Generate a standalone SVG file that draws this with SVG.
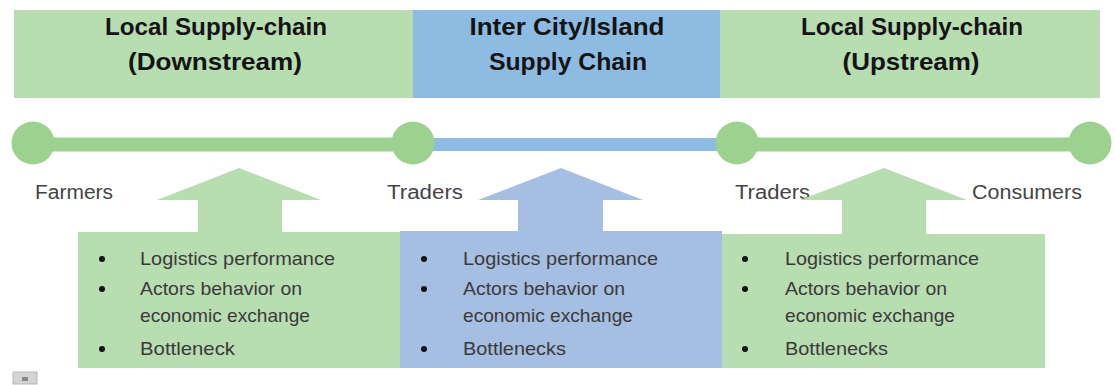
<svg xmlns="http://www.w3.org/2000/svg" width="1115" height="385" viewBox="0 0 1115 385">
  <style>
    .green-band { fill: #b7ddb1; }
    .blue-band { fill: #8dbbe2; }
    .green-node { fill: #9dd18f; }
    .green-box { fill: #b7ddb1; }
    .blue-box { fill: #a5bee1; }
    .title { font-family: "Liberation Sans", Arial, sans-serif; font-weight: bold; font-size: 24px; fill: #141414; text-anchor: middle; }
    .label { font-family: "Liberation Sans", Arial, sans-serif; font-size: 20px; fill: #444444; }
    .item { font-family: "Liberation Sans", Arial, sans-serif; font-size: 19px; fill: #3a3a3a; }
    .dot { fill: #111111; }
  </style>

  <!-- header bands -->
  <g id="band-downstream">
    <rect class="green-band" x="14" y="10" width="399" height="88"/>
    <text class="title" x="216" y="35" textLength="222" lengthAdjust="spacingAndGlyphs">Local Supply-chain</text>
    <text class="title" x="215" y="70" textLength="174" lengthAdjust="spacingAndGlyphs">(Downstream)</text>
  </g>
  <g id="band-intercity">
    <rect class="blue-band" x="413" y="10" width="307" height="88"/>
    <text class="title" x="567" y="35" textLength="195" lengthAdjust="spacingAndGlyphs">Inter City/Island</text>
    <text class="title" x="568" y="70" textLength="158" lengthAdjust="spacingAndGlyphs">Supply Chain</text>
  </g>
  <g id="band-upstream">
    <rect class="green-band" x="720" y="10" width="380" height="88"/>
    <text class="title" x="912" y="35" textLength="222" lengthAdjust="spacingAndGlyphs">Local Supply-chain</text>
    <text class="title" x="911" y="70" textLength="137" lengthAdjust="spacingAndGlyphs">(Upstream)</text>
  </g>

  <!-- timeline segments -->
  <g id="connectors">
    <line x1="33" y1="144.5" x2="413" y2="144.5" stroke="#9dd18f" stroke-width="14"/>
    <line x1="413" y1="144.5" x2="737" y2="144.5" stroke="#8dbbe2" stroke-width="13"/>
    <line x1="737" y1="144.5" x2="1090" y2="144.5" stroke="#9dd18f" stroke-width="14"/>
  </g>

  <!-- actors on the timeline -->
  <g id="node-farmers">
    <circle class="green-node" cx="33" cy="143" r="21.5"/>
    <text class="label" x="35" y="199" textLength="78" lengthAdjust="spacingAndGlyphs">Farmers</text>
  </g>
  <g id="node-traders-1">
    <circle class="green-node" cx="413" cy="143" r="21.5"/>
    <text class="label" x="387" y="199" textLength="76" lengthAdjust="spacingAndGlyphs">Traders</text>
  </g>
  <g id="node-traders-2">
    <circle class="green-node" cx="737" cy="143" r="21.5"/>
    <text class="label" x="735" y="199" textLength="75" lengthAdjust="spacingAndGlyphs">Traders</text>
  </g>
  <g id="node-consumers">
    <circle class="green-node" cx="1090" cy="143" r="21.5"/>
    <text class="label" x="972" y="199" textLength="110" lengthAdjust="spacingAndGlyphs">Consumers</text>
  </g>

  <!-- arrow boxes with their issue lists -->
  <g id="box-downstream">
    <polygon class="green-box" points="78,232 198,232 198,200 157,200 239,168 321,200 282,200 282,232 400,232 400,368 78,368"/>
    <circle class="dot" cx="102" cy="259" r="3"/>
    <circle class="dot" cx="102" cy="289" r="3"/>
    <circle class="dot" cx="102" cy="349" r="3"/>
    <text class="item" x="140" y="265" textLength="195" lengthAdjust="spacingAndGlyphs">Logistics performance</text>
    <text class="item" x="140" y="295" textLength="162" lengthAdjust="spacingAndGlyphs">Actors behavior on</text>
    <text class="item" x="140" y="322" textLength="170" lengthAdjust="spacingAndGlyphs">economic exchange</text>
    <text class="item" x="140" y="355" textLength="95" lengthAdjust="spacingAndGlyphs">Bottleneck</text>
  </g>
  <g id="box-intercity">
    <polygon class="blue-box" points="400,231 518,231 518,200 478,200 561,168 643,200 603,200 603,231 722,231 722,368 400,368"/>
    <circle class="dot" cx="424" cy="259" r="3"/>
    <circle class="dot" cx="424" cy="289" r="3"/>
    <circle class="dot" cx="424" cy="349" r="3"/>
    <text class="item" x="463" y="265" textLength="195" lengthAdjust="spacingAndGlyphs">Logistics performance</text>
    <text class="item" x="463" y="295" textLength="162" lengthAdjust="spacingAndGlyphs">Actors behavior on</text>
    <text class="item" x="463" y="322" textLength="170" lengthAdjust="spacingAndGlyphs">economic exchange</text>
    <text class="item" x="463" y="355" textLength="103" lengthAdjust="spacingAndGlyphs">Bottlenecks</text>
  </g>
  <g id="box-upstream">
    <polygon class="green-box" points="722,234 842,234 842,200 800,200 884,168 967,200 926,200 926,234 1045,234 1045,368 722,368"/>
    <circle class="dot" cx="745" cy="259" r="3"/>
    <circle class="dot" cx="745" cy="289" r="3"/>
    <circle class="dot" cx="745" cy="349" r="3"/>
    <text class="item" x="785" y="265" textLength="194" lengthAdjust="spacingAndGlyphs">Logistics performance</text>
    <text class="item" x="785" y="295" textLength="162" lengthAdjust="spacingAndGlyphs">Actors behavior on</text>
    <text class="item" x="785" y="322" textLength="170" lengthAdjust="spacingAndGlyphs">economic exchange</text>
    <text class="item" x="785" y="355" textLength="103" lengthAdjust="spacingAndGlyphs">Bottlenecks</text>
  </g>

  <!-- small placeholder mark, lower left -->
  <g id="marker-icon">
    <rect x="13" y="372" width="24" height="12" fill="#d4d4d4" stroke="#b8b8b8" stroke-width="1"/>
    <rect x="22" y="377" width="6" height="4" fill="#8a8a8a"/>
  </g>
</svg>
